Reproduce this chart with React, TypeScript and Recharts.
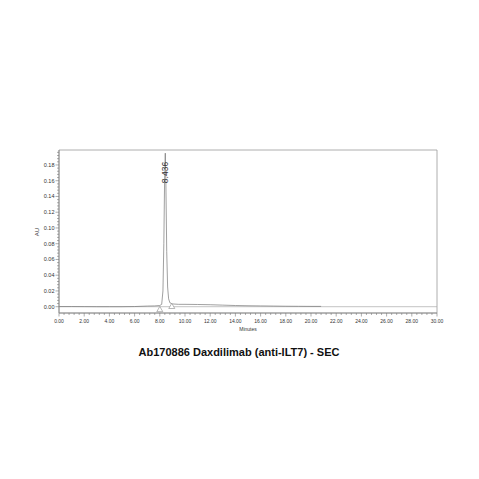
import React from 'react';
import { ComposedChart, Line, Scatter, XAxis, YAxis, ReferenceLine, ReferenceArea } from 'recharts';

// chromatogram trace (minutes, AU)
const traceTimes = [0, 1, 2, 3, 4, 5, 6, 7, 7.6, 8.0, 8.15, 8.25, 8.32, 8.38, 8.436, 8.48, 8.55, 8.62, 8.7, 8.8, 9.0, 9.5, 10, 11, 12, 13, 14, 15, 16, 17, 18, 19, 20, 20.8];
const traceValues = [0.0002, 0.0002, 0.0001, 0, 0, 0, 0.0002, 0.0008, 0.001, 0.0015, 0.003, 0.02, 0.08, 0.16, 0.195, 0.16, 0.07, 0.025, 0.01, 0.005, 0.0035, 0.003, 0.003, 0.0028, 0.0025, 0.002, 0.0015, 0.0012, 0.001, 0.0008, 0.0006, 0.0005, 0.0004, 0.0004];

// integration start / end markers
const markerTimes = [8.0, 8.95];
const markerValues = [-0.0035, 0.0005];

const peakLabels = [{ t: 8.436, v: 0.195, label: '8.436' }];

const xMajor = [0, 2, 4, 6, 8, 10, 12, 14, 16, 18, 20, 22, 24, 26, 28, 30];
const yMajor = [0, 0.02, 0.04, 0.06, 0.08, 0.1, 0.12, 0.14, 0.16, 0.18];

const xTicks: number[] = [];
for (let i = 0; i <= 75; i++) xTicks.push(Math.round(i * 0.4 * 100) / 100);
const yTicks: number[] = [];
for (let i = -1; i <= 49; i++) yTicks.push(Math.round(i * 0.004 * 1000) / 1000);

const trace = traceTimes.map((t, i) => ({ t, v: traceValues[i] }));
const markers = markerTimes.map((t, i) => ({ t, v: markerValues[i] }));

const isMajor = (v: number, list: number[]) => list.some(m => Math.abs(m - v) < 1e-6);

const XTick = (props: any) => {
  const { x, y, payload } = props;
  const major = isMajor(payload.value, xMajor);
  return (
    <g>
      <line x1={x} x2={x} y1={y} y2={y + (major ? 3.5 : 2)} stroke="#777" strokeWidth={0.6} />
      {major && (
        <text x={x} y={y + 9.5} textAnchor="middle" fontSize={5} fill="#333" fontFamily="Liberation Sans, Arial">
          {payload.value.toFixed(2)}
        </text>
      )}
    </g>
  );
};

const YTick = (props: any) => {
  const { x, y, payload } = props;
  if (payload.value < -0.0001) return <g />;
  const major = isMajor(payload.value, yMajor);
  return (
    <g>
      <line x1={x} x2={x - (major ? 3.5 : 2)} y1={y} y2={y} stroke="#777" strokeWidth={0.6} />
      {major && (
        <text x={x - 4.5} y={y + 2} textAnchor="end" fontSize={5.5} fill="#333" fontFamily="Liberation Sans, Arial">
          {payload.value.toFixed(2)}
        </text>
      )}
    </g>
  );
};

const Triangle = (props: any) => {
  const { cx, cy } = props;
  return <path d={`M${cx},${cy - 3} L${cx + 3},${cy + 2.2} L${cx - 3},${cy + 2.2} Z`} fill="#fff" stroke="#888" strokeWidth={0.6} />;
};

const PeakText = (props: any) => {
  const { cx, cy, payload } = props;
  const tx = cx + 3;
  const ty = cy + 30;
  return (
    <text x={tx} y={ty} transform={`rotate(-90 ${tx} ${ty})`} fontSize={8.5} fill="#333" fontFamily="Liberation Sans, Arial">
      {payload.label}
    </text>
  );
};

const App: React.FC = () => {
  return (
    <div style={{ position: 'absolute', left: 0, top: 0, width: 479, height: 479, background: '#fff', fontFamily: 'Liberation Sans, Arial, sans-serif' }}>
      <ComposedChart width={479} height={479} margin={{ top: 150, right: 42, left: 20, bottom: 146 }}>
        <ReferenceArea x1={0} x2={30} y1={-0.008} y2={0.199} fill="none" stroke="#999" strokeWidth={0.8} ifOverflow="extendDomain" />
        <XAxis
          type="number"
          dataKey="t"
          domain={[0, 30]}
          ticks={xTicks}
          interval={0}
          height={20}
          tickSize={0}
          tickMargin={0}
          tickLine={false}
          axisLine={{ stroke: '#888', strokeWidth: 0.8 }}
          tick={<XTick />}
          allowDataOverflow
        />
        <YAxis
          type="number"
          dataKey="v"
          domain={[-0.008, 0.199]}
          ticks={yTicks}
          interval={0}
          width={39}
          tickSize={0}
          tickMargin={0}
          tickLine={false}
          axisLine={{ stroke: '#888', strokeWidth: 0.8 }}
          tick={<YTick />}
          allowDataOverflow
        />
        <ReferenceLine y={0} stroke="#aaa" strokeWidth={0.7} />
        <Line data={trace} dataKey="v" type="linear" stroke="#777" strokeWidth={0.7} dot={false} isAnimationActive={false} />
        <Scatter data={markers} dataKey="v" shape={<Triangle />} isAnimationActive={false} />
        <Scatter data={peakLabels} dataKey="v" shape={<PeakText />} isAnimationActive={false} />
      </ComposedChart>
      <div style={{ position: 'absolute', left: 37, top: 232, fontSize: 6, color: '#333', transform: 'translate(-50%, -50%) rotate(-90deg)' }}>AU</div>
      <div style={{ position: 'absolute', left: 248, top: 329, fontSize: 5, color: '#333', transform: 'translate(-50%, -50%)' }}>Minutes</div>
      <div style={{ position: 'absolute', left: 239, top: 352, fontSize: 11, fontWeight: 'bold', color: '#111', transform: 'translate(-50%, -50%)', whiteSpace: 'nowrap' }}>
        Ab170886 Daxdilimab (anti-ILT7) - SEC
      </div>
    </div>
  );
};

export default App;
